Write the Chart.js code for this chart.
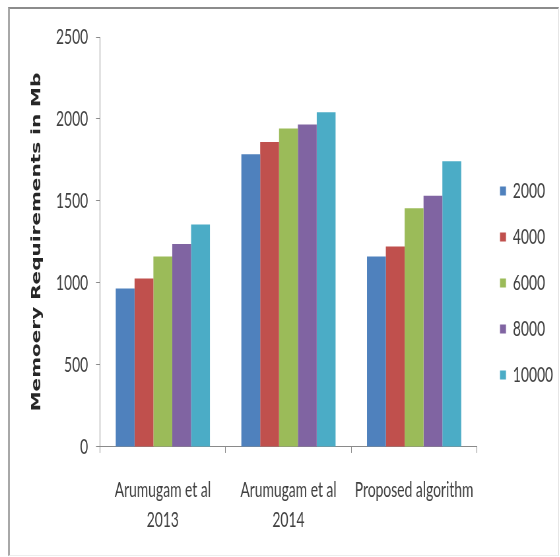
<!DOCTYPE html>
<html>
<head>
<meta charset="utf-8">
<title>Memory requirements</title>
<script src="https://cdn.jsdelivr.net/npm/chart.js@4.4.1/dist/chart.umd.min.js"></script>
<style>
  html, body { margin: 0; padding: 0; background: #fff; overflow: hidden; }
  #frame {
    position: absolute; left: 8px; top: 7px; width: 548px; height: 546px;
    border-top: 2px solid #8c8c8c; border-left: 2px solid #a8a8a8;
    border-right: 1px solid #e6e6e6; border-bottom: 1px solid #ededed;
  }
  /* chart is drawn wide and squeezed horizontally, like the narrow Excel export */
  #wrap {
    position: absolute; left: 0; top: 0; width: 848px; height: 557px;
    transform: scaleX(0.66); transform-origin: 0 0;
  }
</style>
</head>
<body>
<div id="frame"></div>
<div id="wrap"><canvas id="chart" width="848" height="557"></canvas></div>
<script>
const groups = [["Arumugam et al", "2013"], ["Arumugam et al", "2014"], "Proposed algorithm"];
const seriesNames = ["2000", "4000", "6000", "8000", "10000"];
const mem2000 = [966, 1785, 1161];
const mem4000 = [1027, 1860, 1222];
const mem6000 = [1161, 1942, 1455];
const mem8000 = [1237, 1966, 1532];
const mem10000 = [1357, 2041, 1742];
const yTicks = [0, 500, 1000, 1500, 2000, 2500];

const colors = ["#4F81BD", "#C0504D", "#9BBB59", "#8064A2", "#4BACC6"];
const axisGray = "#8a8a8a";
const textGray = "#404040";
const labelFont = { family: "Lato", size: 21 };

const seriesValues = [mem2000, mem4000, mem6000, mem8000, mem10000];

// legend sits a bit apart from the plot area
const legendShift = {
  id: "legendShift",
  afterLayout(chart) {
    const lg = chart.legend;
    lg.left += 10; lg.right += 10;
    lg.top -= 14; lg.bottom -= 14;
  }
};

new Chart(document.getElementById("chart"), {
  type: "bar",
  data: {
    labels: groups,
    datasets: seriesNames.map((name, i) => ({
      label: name,
      data: seriesValues[i],
      backgroundColor: colors[i],
      borderWidth: 0
    }))
  },
  options: {
    responsive: false,
    animation: false,
    devicePixelRatio: 1,
    layout: { padding: { left: 44, right: 10, top: 37, bottom: 0 } },
    datasets: { bar: { categoryPercentage: 0.75, barPercentage: 1 } },
    plugins: {
      legend: {
        position: "right",
        labels: { boxWidth: 9, boxHeight: 9, padding: 25, color: textGray, font: labelFont }
      },
      tooltip: { enabled: false }
    },
    scales: {
      x: {
        grid: { drawOnChartArea: false, drawTicks: true, tickLength: 6, color: axisGray },
        border: { color: axisGray },
        ticks: { padding: 22, color: textGray, maxRotation: 0, font: { family: "Lato", size: 21, lineHeight: 1.43 } }
      },
      y: {
        min: yTicks[0],
        max: yTicks[yTicks.length - 1],
        ticks: {
          stepSize: yTicks[1] - yTicks[0],
          padding: 12,
          color: textGray,
          font: labelFont,
          callback: (v) => String(v)
        },
        grid: { drawOnChartArea: false, drawTicks: true, tickLength: 6, color: axisGray },
        border: { color: axisGray },
        title: {
          display: true,
          text: "Memoery Requirements in Mb",
          color: "#262626",
          padding: 0,
          font: { family: "DejaVu Sans", size: 20, weight: "bold" }
        },
        afterFit(scale) { scale.width = 107.5; }
      }
    }
  },
  plugins: [legendShift]
});
</script>
</body>
</html>
